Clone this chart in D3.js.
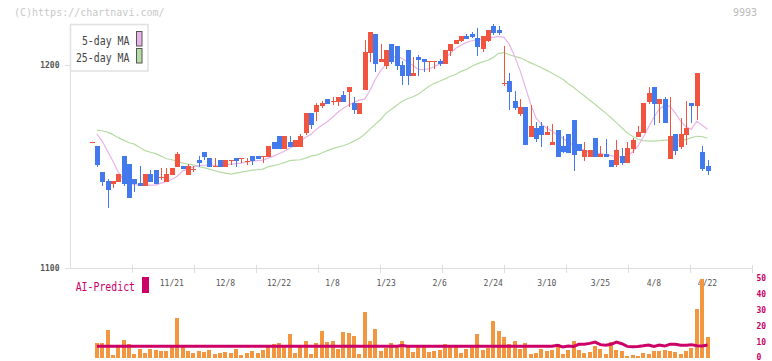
<!DOCTYPE html>
<html><head><meta charset="utf-8">
<script src="https://cdn.jsdelivr.net/npm/d3@7"></script>
<style>html,body{margin:0;padding:0;background:#fff;} svg{display:block;}</style>
</head><body><svg id="c" width="772" height="361"></svg>
<script>
const open=[1162.1,1160.1,1147.3,1142.9,1141.4,1142.4,1155.2,1151.2,1143.8,1141.9,
1140.4,1146.3,1148.3,1144.6,1142.4,1145.8,1149.8,1150.2,1145.8,1148.6,
1153.2,1157.1,1154.2,1149.8,1153.2,1149.8,1152.7,1154.2,1153.7,1152.2,
1155.2,1155.2,1154.7,1154.7,1162.1,1165.0,1158.6,1162.1,1159.6,1159.6,
1166.5,1176.4,1176.8,1179.8,1183.3,1181.8,1181.8,1185.2,1186.7,1181.3,
1175.9,1187.7,1205.9,1215.3,1201.5,1199.5,1210.3,1209.4,1200.0,1207.4,
1194.6,1203.9,1203.0,1201.5,1201.5,1202.0,1200.5,1206.9,1210.3,1211.8,
1214.3,1215.3,1213.3,1207.9,1211.8,1219.2,1217.2,1190.6,1192.1,1182.3,
1175.9,1179.3,1164.5,1169.0,1170.0,1165.5,1160.6,1168.0,1160.1,1166.0,
1172.9,1161.1,1154.7,1154.7,1164.0,1154.7,1156.2,1153.2,1150.7,1155.2,
1151.7,1158.6,1164.5,1166.5,1181.8,1189.2,1180.8,1183.3,1153.7,1166.0,
1159.6,1165.5,1181.3,1179.8,1157.1,1150.2];
const high=[1162.1,1160.1,1147.3,1143.8,1142.9,1146.3,1155.2,1151.2,1143.8,1150.2,
1146.3,1148.3,1148.3,1149.3,1149.3,1149.3,1157.1,1150.2,1151.2,1150.2,
1155.2,1157.1,1154.2,1154.2,1153.2,1153.2,1153.2,1154.2,1154.2,1154.2,
1155.2,1155.2,1155.2,1160.1,1162.1,1165.0,1165.0,1165.0,1163.1,1166.0,
1176.4,1176.4,1181.3,1182.3,1183.3,1184.2,1184.2,1187.2,1189.2,1184.2,
1181.3,1212.3,1216.3,1215.3,1210.3,1207.4,1210.3,1209.4,1202.0,1207.4,
1203.9,1204.9,1203.0,1202.0,1202.0,1203.0,1207.4,1210.3,1212.3,1214.3,
1215.3,1216.3,1218.2,1214.3,1217.2,1220.2,1219.2,1209.4,1196.1,1187.2,
1183.3,1179.3,1180.3,1171.9,1171.9,1170.0,1170.9,1168.0,1165.0,1166.0,
1172.9,1161.1,1162.1,1158.1,1164.0,1160.1,1163.5,1153.2,1163.1,1159.1,
1162.1,1164.0,1170.0,1181.3,1189.2,1189.2,1183.3,1184.2,1184.2,1166.0,
1173.9,1182.3,1181.3,1196.1,1160.1,1153.2];
const low=[1162.1,1149.8,1140.4,1129.6,1139.4,1142.4,1140.4,1134.5,1137.7,1140.4,
1140.4,1142.4,1141.4,1143.3,1142.4,1145.8,1149.8,1148.8,1145.8,1147.3,
1149.8,1153.2,1149.8,1149.8,1149.8,1149.8,1150.7,1149.8,1151.7,1150.7,
1150.7,1153.7,1151.7,1154.7,1158.6,1158.6,1158.6,1159.6,1159.6,1159.6,
1165.5,1168.5,1172.4,1178.8,1180.8,1180.3,1179.8,1181.8,1179.3,1175.9,
1175.9,1187.7,1201.5,1196.6,1201.5,1198.0,1200.5,1197.5,1190.1,1190.1,
1194.6,1194.6,1196.6,1196.6,1198.0,1199.5,1200.5,1204.4,1210.3,1211.3,
1212.8,1213.3,1204.4,1206.4,1211.3,1214.8,1214.8,1189.7,1177.8,1177.8,
1174.9,1160.6,1164.5,1162.1,1159.6,1165.5,1160.6,1154.7,1156.7,1156.7,
1147.8,1157.6,1152.7,1154.7,1154.7,1154.7,1154.7,1149.8,1149.8,1150.7,
1151.7,1156.7,1164.5,1166.5,1180.8,1170.4,1171.4,1171.4,1153.7,1155.7,
1158.6,1160.6,1171.4,1172.9,1147.8,1145.8];
const close=[1162.1,1150.7,1142.4,1138.4,1142.9,1146.3,1141.4,1134.5,1141.4,1140.4,
1146.3,1142.4,1141.4,1145.0,1146.3,1149.3,1156.2,1148.8,1150.2,1149.0,
1151.7,1154.7,1149.8,1150.4,1149.8,1153.2,1153.2,1152.7,1154.2,1152.7,
1152.7,1153.7,1155.2,1160.1,1158.6,1158.6,1165.0,1159.6,1163.1,1165.0,
1176.4,1170.4,1180.3,1181.3,1180.8,1182.3,1184.2,1181.8,1189.2,1177.8,
1181.3,1206.4,1216.3,1200.5,1203.0,1207.4,1201.5,1199.5,1194.6,1194.6,
1196.1,1202.5,1201.5,1202.0,1202.0,1200.5,1207.4,1210.3,1212.3,1214.3,
1212.8,1213.8,1208.9,1214.3,1217.2,1215.8,1215.8,1191.1,1186.7,1178.8,
1179.3,1160.6,1170.0,1163.5,1165.5,1167.0,1162.1,1154.7,1157.1,1156.7,
1155.7,1157.6,1158.1,1158.1,1154.7,1156.2,1154.7,1149.8,1158.1,1151.7,
1159.1,1163.1,1167.0,1181.3,1186.2,1180.8,1183.3,1171.4,1165.0,1157.6,
1166.0,1169.0,1179.8,1196.1,1148.8,1147.8];
const ma5=[null,1166.0,1162.6,1157.6,1152.7,1147.3,1143.3,1141.9,1141.1,1140.9,
1140.9,1140.9,1140.9,1141.9,1142.6,1143.8,1145.3,1147.8,1149.0,1149.8,
1150.5,1150.7,1150.7,1150.7,1150.7,1151.0,1151.2,1151.5,1151.7,1152.2,
1152.7,1153.0,1153.2,1154.2,1155.2,1156.4,1157.6,1159.1,1160.6,1162.6,
1164.5,1166.0,1168.5,1170.4,1172.2,1174.4,1176.8,1178.8,1180.3,1181.8,
1182.8,1183.3,1187.7,1193.1,1197.5,1200.5,1203.4,1204.9,1203.4,1201.5,
1200.0,1198.0,1197.8,1198.3,1199.3,1200.7,1203.4,1205.9,1208.4,1209.9,
1211.3,1212.1,1212.6,1212.8,1213.3,1213.8,1214.3,1213.8,1210.3,1204.4,
1197.5,1189.2,1180.8,1173.9,1170.9,1169.0,1167.5,1165.5,1164.0,1162.1,
1160.6,1159.4,1158.1,1157.1,1156.7,1156.4,1155.9,1155.4,1154.9,1154.7,
1155.2,1157.1,1160.1,1164.5,1169.5,1174.4,1178.3,1180.3,1179.8,1176.4,
1172.4,1169.5,1168.5,1172.4,1170.4,1168.5];
const ma25=[null,1168.0,1167.7,1167.0,1165.8,1164.3,1163.1,1161.8,1161.1,1159.4,
1157.9,1157.1,1156.4,1155.2,1153.9,1153.4,1152.7,1151.7,1151.2,1150.9,
1150.0,1149.5,1148.8,1148.0,1147.3,1146.8,1146.3,1146.8,1147.3,1147.8,
1148.3,1148.5,1148.8,1150.0,1150.5,1151.2,1152.0,1153.0,1153.2,1153.4,
1154.2,1155.2,1155.7,1156.7,1157.9,1158.9,1159.6,1160.3,1161.3,1162.6,
1164.0,1166.0,1168.5,1170.9,1173.4,1176.4,1178.3,1180.3,1182.3,1183.5,
1184.5,1185.7,1187.7,1189.7,1191.1,1192.1,1193.3,1194.6,1195.6,1197.0,
1198.0,1199.5,1200.7,1201.7,1202.5,1203.9,1205.9,1206.2,1205.2,1204.4,
1203.7,1202.5,1201.2,1200.0,1198.8,1197.5,1196.1,1194.6,1193.1,1190.9,
1189.2,1186.9,1185.0,1182.8,1180.8,1178.6,1176.4,1174.1,1171.7,1169.2,
1166.7,1165.0,1163.5,1162.8,1162.6,1162.6,1162.8,1163.1,1163.1,1163.1,
1163.1,1163.3,1164.3,1165.0,1164.8,1164.0];
const volume=[0,9.4,9.4,17.6,1.9,6.9,11.3,8.8,2.5,5.7,
3.1,5.7,5.0,4.4,4.4,6.9,25.2,6.9,4.4,3.1,
4.4,3.8,5.0,2.5,3.1,3.8,3.1,5.7,1.9,3.1,
4.4,3.1,5.0,7.5,8.8,9.4,7.5,15.1,3.1,8.2,
10.7,2.5,9.4,17.0,10.1,10.7,5.7,16.4,15.7,13.8,
2.5,28.9,10.7,18.2,4.4,6.3,9.4,7.5,10.7,6.9,
3.8,6.9,6.9,3.8,4.4,5.0,8.8,6.9,6.9,3.1,
5.7,6.9,15.1,5.0,6.3,23.2,17.0,13.2,8.8,10.7,
5.7,9.4,2.5,3.1,5.7,4.4,5.0,8.8,2.5,5.0,
10.7,5.0,3.1,3.8,7.5,5.7,2.5,10.1,5.0,4.4,
1.3,1.9,1.3,3.1,2.5,4.4,4.4,5.0,4.4,3.8,
2.5,4.4,6.3,30.8,49.6,13.2];
const aiPredict=[null,7.4,7.4,7.4,7.4,7.4,7.4,7.4,7.4,7.4,
7.4,7.4,7.4,7.4,7.4,7.4,7.4,7.4,7.4,7.4,
7.4,7.4,7.4,7.4,7.4,7.4,7.4,7.4,7.4,7.4,
7.4,7.4,7.4,7.4,7.4,7.4,7.4,7.4,7.4,7.4,
7.4,7.4,7.4,7.4,7.4,7.4,7.4,7.4,7.4,7.4,
7.4,7.4,7.4,7.4,7.4,7.4,7.4,7.4,7.8,7.4,
7.4,7.4,7.4,7.4,7.4,7.4,7.4,7.4,7.4,7.4,
7.4,7.4,7.4,7.4,7.4,7.4,7.4,7.4,7.4,7.4,
7.4,7.4,7.4,7.4,7.4,7.4,7.4,8.0,7.0,7.5,
7.3,8.6,8.6,9.2,10.0,8.4,8.0,8.6,10.0,9.0,
7.3,7.1,7.3,7.7,8.2,7.3,8.2,7.5,8.6,8.6,
8.0,8.0,8.4,7.7,7.5,8.2];
const tickLabels=["11/21","12/8","12/22","1/8","1/23","2/6","2/24","3/10","3/25","4/8","4/22"];
const tickIndex=[15,25,35,45,55,65,75,85,95,105,115];
const priceTicks=[1100,1200];
const volTicks=[0,10,20,30,40,50];
const legendNames=["5-day MA","25-day MA"];

const MONO="'DejaVu Sans Mono','Liberation Mono',monospace";
const RED="#f2553f", BLUE="#4279ec", PINK="#e8b4e8", GREEN="#b6dca6", AI="#cc0066", ORANGE="#f2963f", AXIS="#dddddd";
const svg=d3.select("#c");
const n=open.length;
const idx=d3.range(n);
const x=d3.scaleLinear().domain([0,n-1]).range([91.5,707.5]);
const y=d3.scaleLinear().domain([1100,1200]).range([268,65.3]);
const yv=d3.scaleLinear().domain([0,50]).range([358,278.5]);
const grid=d3.scaleLinear().domain([0,11]).range([70,752]);

svg.append("rect").attr("width",772).attr("height",361).attr("fill","#fff");

// header texts
svg.append("text").attr("x",14).attr("y",16).attr("font-family",MONO).attr("font-size",10)
  .attr("fill","#c8c8c8").text("(C)https://chartnavi.com/");
svg.append("text").attr("x",757).attr("y",16).attr("text-anchor","end").attr("font-family",MONO).attr("font-size",10)
  .attr("fill","#bbbbbb").text("9993");

// axes
const ax=svg.append("g").attr("stroke",AXIS).attr("stroke-width",1.5).attr("shape-rendering","crispEdges");
ax.append("line").attr("x1",70.5).attr("x2",70.5).attr("y1",24).attr("y2",268.5);
ax.append("line").attr("x1",65).attr("x2",752.5).attr("y1",268.5).attr("y2",268.5);
ax.selectAll(".pt").data(priceTicks).join("line").attr("x1",65).attr("x2",70.5)
  .attr("y1",d=>Math.round(y(d))+0.5).attr("y2",d=>Math.round(y(d))+0.5);
ax.selectAll(".gt").data(d3.range(1,12)).join("line")
  .attr("x1",d=>Math.round(grid(d))+0.5).attr("x2",d=>Math.round(grid(d))+0.5).attr("y1",265).attr("y2",273);

svg.selectAll(".pl").data(priceTicks).join("text").attr("x",59.5).attr("y",d=>y(d)+3)
  .attr("text-anchor","end").attr("font-family",MONO).attr("font-size",8).attr("font-weight","bold")
  .attr("fill","#555").text(d=>d);

// x labels
svg.selectAll(".xl").data(tickIndex).join("text").attr("x",d=>x(d)).attr("y",285.5)
  .attr("text-anchor","middle").attr("font-family",MONO).attr("font-size",8).attr("fill","#555")
  .text((d,i)=>tickLabels[i]);

// MA lines
const maLine=arr=>d3.line().defined(i=>arr[i]!=null).x(i=>x(i)).y(i=>y(arr[i]));
svg.append("path").attr("d",maLine(ma25)(idx)).attr("fill","none").attr("stroke",GREEN).attr("stroke-width",1.2);
svg.append("path").attr("d",maLine(ma5)(idx)).attr("fill","none").attr("stroke",PINK).attr("stroke-width",1.2);

// candles
const cg=svg.append("g").attr("shape-rendering","crispEdges");
const col=i=>close[i]>=open[i]?RED:BLUE;
cg.selectAll(".w").data(idx).join("rect")
  .attr("x",i=>Math.round(x(i))-0.5).attr("width",1)
  .attr("y",i=>y(high[i])).attr("height",i=>Math.max(1,y(low[i])-y(high[i])))
  .attr("fill",col);
cg.selectAll(".b").data(idx).join("rect")
  .attr("x",i=>Math.round(x(i))-2.5).attr("width",5)
  .attr("y",i=>y(Math.max(open[i],close[i])))
  .attr("height",i=>Math.max(1,Math.abs(y(open[i])-y(close[i]))))
  .attr("fill",col);

// legend
const lg=svg.append("g");
lg.append("rect").attr("x",70.5).attr("y",24.5).attr("width",77.5).attr("height",46.5)
  .attr("fill","#fff").attr("stroke","#e0e0e0").attr("stroke-width",1.5);
const lgY=[45.3,61.5], lgW=[47.6,53.6], lgC=[PINK,GREEN], lgR=[31.5,48.5];
legendNames.forEach((t,i)=>{
  lg.append("text").attr("x",129.5).attr("y",lgY[i]).attr("text-anchor","end")
    .attr("font-family",MONO).attr("font-size",12.5).attr("fill","#444")
    .attr("textLength",lgW[i]).attr("lengthAdjust","spacingAndGlyphs").text(t);
  lg.append("rect").attr("x",136.5).attr("y",lgR[i]).attr("width",5.5).attr("height",14.5)
    .attr("fill",lgC[i]).attr("stroke","#555").attr("stroke-width",1);
});

// AI-Predict label
svg.append("text").attr("x",75.7).attr("y",290.5).attr("font-family",MONO).attr("font-size",12)
  .attr("fill",AI).attr("textLength",59.3).attr("lengthAdjust","spacingAndGlyphs").text("AI-Predict");
svg.append("rect").attr("x",142).attr("y",277).attr("width",7).attr("height",16).attr("fill",AI);

// volume bars
svg.append("g").attr("shape-rendering","crispEdges").selectAll("rect").data(idx.filter(i=>volume[i]>0)).join("rect")
  .attr("x",i=>Math.round(x(i))-2.5).attr("width",4)
  .attr("y",i=>yv(volume[i])).attr("height",i=>yv(0)-yv(volume[i]))
  .attr("fill",ORANGE);

// AI line
svg.append("path").attr("d",d3.line().defined(i=>aiPredict[i]!=null).x(i=>x(i)).y(i=>yv(aiPredict[i]))(idx))
  .attr("fill","none").attr("stroke",AI).attr("stroke-width",3);

// right axis
svg.selectAll(".vl").data(volTicks).join("text").attr("x",756.5).attr("y",d=>Math.min(yv(d)+2.5,359.5))
  .attr("font-family",MONO).attr("font-size",8).attr("font-weight","bold").attr("fill",AI).text(d=>d);
</script></body></html>
